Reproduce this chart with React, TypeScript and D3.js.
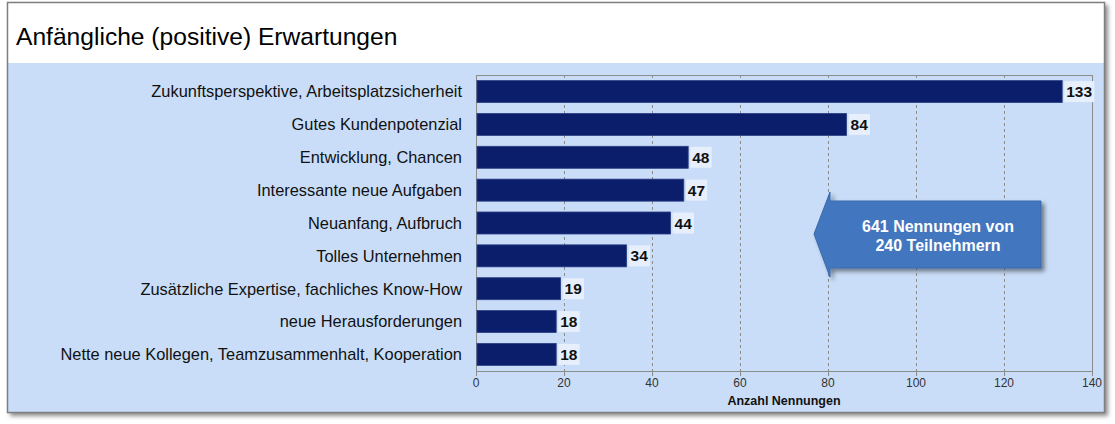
import { useEffect, useRef } from 'react';
import * as d3 from 'd3';

const categories = [
  'Zukunftsperspektive, Arbeitsplatzsicherheit',
  'Gutes Kundenpotenzial',
  'Entwicklung, Chancen',
  'Interessante neue Aufgaben',
  'Neuanfang, Aufbruch',
  'Tolles Unternehmen',
  'Zusätzliche Expertise, fachliches Know-How',
  'neue Herausforderungen',
  'Nette neue Kollegen, Teamzusammenhalt, Kooperation',
];
const values = [133, 84, 48, 47, 44, 34, 19, 18, 18];
const xTicks = [0, 20, 40, 60, 80, 100, 120, 140];
const title = 'Anfängliche (positive) Erwartungen';
const xTitle = 'Anzahl Nennungen';
const calloutLines = ['641 Nennungen von', '240 Teilnehmern'];

const W = 1115;
const H = 424;
const font = '"Liberation Sans", Arial, sans-serif';

export default function App() {
  const svgRef = useRef<SVGSVGElement>(null);

  useEffect(() => {
    if (!svgRef.current) return;
    const svg = d3.select(svgRef.current);
    svg.selectAll('*').remove();

    const frame = { x: 7, y: 2, w: 1098, h: 411 };
    const titleH = 61;
    const plot = { left: 476, right: 1092, top: 75, bottom: 371 };

    // shadow
    const defs = svg.append('defs');
    const f = defs.append('filter').attr('id', 'sh').attr('x', '-5%').attr('y', '-5%').attr('width', '110%').attr('height', '115%');
    f.append('feDropShadow').attr('dx', 3).attr('dy', 3).attr('stdDeviation', 2).attr('flood-color', '#000').attr('flood-opacity', 0.45);

    svg.append('rect')
      .attr('x', frame.x).attr('y', frame.y).attr('width', frame.w).attr('height', frame.h)
      .attr('fill', '#c9ddf8').attr('filter', 'url(#sh)');
    svg.append('rect')
      .attr('x', frame.x).attr('y', frame.y).attr('width', frame.w).attr('height', titleH)
      .attr('fill', '#ffffff');
    svg.append('rect')
      .attr('x', frame.x + 0.5).attr('y', frame.y + 0.5).attr('width', frame.w - 1).attr('height', frame.h - 1)
      .attr('fill', 'none').attr('stroke', '#7f7f7f').attr('stroke-width', 1.5);

    svg.append('text')
      .attr('x', 16).attr('y', 45)
      .attr('font-family', font).attr('font-size', 24.6).attr('fill', '#000')
      .text(title);

    const x = d3.scaleLinear().domain([0, 140]).range([plot.left, plot.right]);
    const y = d3.scaleBand().domain(categories).range([plot.top, plot.bottom]).paddingInner(0.33).paddingOuter(0.17);

    const g = svg.append('g');

    // gridlines
    g.selectAll('.grid')
      .data(xTicks.slice(1, -1))
      .enter()
      .append('line')
      .attr('x1', (d) => x(d) + 0.5).attr('x2', (d) => x(d) + 0.5)
      .attr('y1', plot.top).attr('y2', plot.bottom)
      .attr('stroke', '#8c8c8c').attr('stroke-width', 1).attr('stroke-dasharray', '3,3');

    // plot border
    g.append('rect')
      .attr('x', plot.left + 0.5).attr('y', plot.top + 0.5)
      .attr('width', plot.right - plot.left).attr('height', plot.bottom - plot.top)
      .attr('fill', 'none').attr('stroke', '#8c8c8c').attr('stroke-width', 1);

    // ticks
    g.selectAll('.tick')
      .data(xTicks)
      .enter()
      .append('line')
      .attr('x1', (d) => x(d) + 0.5).attr('x2', (d) => x(d) + 0.5)
      .attr('y1', plot.bottom).attr('y2', plot.bottom + 5)
      .attr('stroke', '#8c8c8c');
    g.selectAll('.tickLabel')
      .data(xTicks)
      .enter()
      .append('text')
      .attr('x', (d) => x(d)).attr('y', plot.bottom + 16)
      .attr('text-anchor', 'middle')
      .attr('font-family', font).attr('font-size', 12).attr('fill', '#333')
      .text((d) => d);

    g.append('text')
      .attr('x', (plot.left + plot.right) / 2).attr('y', plot.bottom + 34)
      .attr('text-anchor', 'middle')
      .attr('font-family', font).attr('font-size', 12.5).attr('font-weight', 'bold').attr('fill', '#111')
      .text(xTitle);

    // bars
    g.selectAll('.bar')
      .data(values)
      .enter()
      .append('rect')
      .attr('x', x(0) + 1)
      .attr('y', (_d, i) => y(categories[i]) || 0)
      .attr('width', (d) => x(d) - x(0))
      .attr('height', y.bandwidth())
      .attr('fill', '#0b1e6b')
      .attr('stroke', '#2b3f86').attr('stroke-width', 0.8);

    // category labels
    g.selectAll('.cat')
      .data(categories)
      .enter()
      .append('text')
      .attr('x', 462)
      .attr('y', (d) => (y(d) || 0) + y.bandwidth() / 2)
      .attr('dy', '0.36em')
      .attr('text-anchor', 'end')
      .attr('font-family', font).attr('font-size', 16.4).attr('fill', '#111')
      .text((d) => d);

    // value labels with background
    const vl = g.selectAll('.val')
      .data(values)
      .enter()
      .append('g')
      .attr('transform', (d, i) => `translate(${x(d) + 3},${(y(categories[i]) || 0) + y.bandwidth() / 2})`);
    vl.append('rect')
      .attr('x', 0).attr('y', -10.5)
      .attr('width', (d) => String(d).length * 8.7 + 4).attr('height', 21)
      .attr('fill', '#e6effb');
    vl.append('text')
      .attr('x', 2).attr('dy', '0.36em')
      .attr('font-family', font).attr('font-size', 15.5).attr('font-weight', 'bold').attr('fill', '#111')
      .text((d) => d);

    // callout arrow
    const arrow = d3.path();
    arrow.moveTo(830, 201);
    arrow.lineTo(830, 192);
    arrow.lineTo(814, 234);
    arrow.lineTo(830, 277);
    arrow.lineTo(830, 268);
    arrow.lineTo(1041, 268);
    arrow.lineTo(1041, 201);
    arrow.closePath();
    svg.append('path')
      .attr('d', arrow.toString())
      .attr('fill', '#4276be').attr('stroke', '#3a69ab').attr('stroke-width', 1)
      .attr('filter', 'url(#sh)');
    svg.selectAll('.cl')
      .data(calloutLines)
      .enter()
      .append('text')
      .attr('x', 938).attr('y', (_d, i) => 232 + i * 19)
      .attr('text-anchor', 'middle')
      .attr('font-family', font).attr('font-size', 16).attr('font-weight', 'bold').attr('fill', '#ffffff')
      .text((d) => d);
  }, []);

  return (
    <svg
      ref={svgRef}
      width={W}
      height={H}
      style={{ position: 'absolute', left: 0, top: 0, background: '#fff' }}
    />
  );
}
